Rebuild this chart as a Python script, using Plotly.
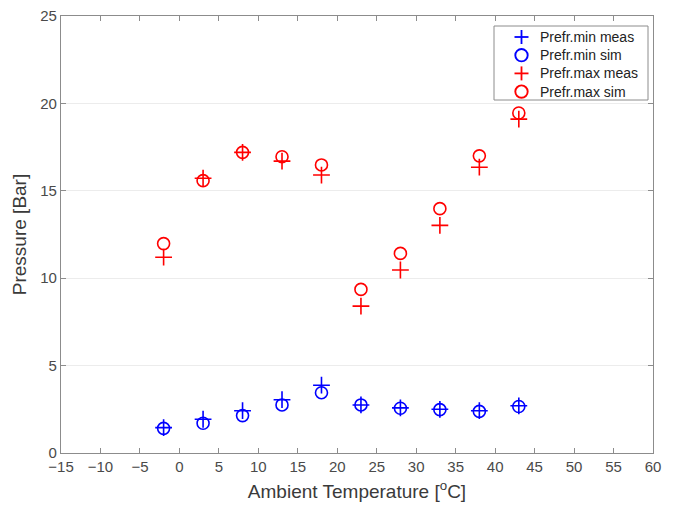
import plotly.graph_objects as go

temps = [-2, 3, 8, 13, 18, 23, 28, 33, 38, 43]
min_meas = [1.45, 1.93, 2.42, 3.05, 3.88, 2.75, 2.58, 2.5, 2.42, 2.7]
min_sim = [1.41, 1.70, 2.14, 2.75, 3.45, 2.75, 2.56, 2.48, 2.38, 2.66]
max_meas = [11.2, 15.72, 17.2, 16.7, 15.9, 8.4, 10.47, 13.02, 16.35, 19.1]
max_sim = [11.98, 15.58, 17.2, 16.95, 16.48, 9.36, 11.42, 13.98, 17.0, 19.45]

series_names = ["Prefr.min meas", "Prefr.min sim", "Prefr.max meas", "Prefr.max sim"]

x_ticks = list(range(-15, 61, 5))
y_ticks = [0, 5, 10, 15, 20, 25]

BLUE = "#0000ff"
RED = "#ff0000"
FONT = "Liberation Sans, Arial, sans-serif"

fig = go.Figure()
series = [
    (series_names[0], min_meas, BLUE, "cross-thin-open"),
    (series_names[1], min_sim, BLUE, "circle-open"),
    (series_names[2], max_meas, RED, "cross-thin-open"),
    (series_names[3], max_sim, RED, "circle-open"),
]
for name, vals, col, sym in series:
    fig.add_trace(go.Scatter(
        x=temps, y=vals, mode="markers", name=name, showlegend=False,
        marker=dict(symbol=sym, size=12, color=col,
                    line=dict(color=col, width=1.6)),
    ))

axis_common = dict(
    showline=True, linecolor="#8c8c8c", linewidth=1.2, mirror="ticks",
    ticks="inside", ticklen=5, tickcolor="#8c8c8c", tickwidth=1,
    tickfont=dict(family=FONT, size=15, color="#4a4a4a"),
    zeroline=False, automargin=False, ticklabeloverflow="allow",
)

fig.update_xaxes(
    range=[-15, 60], tickvals=x_ticks, showgrid=False,
    title=dict(text="Ambient Temperature [<sup>o</sup>C]",
               font=dict(family=FONT, size=19, color="#3a3a3a"), standoff=10),
    **axis_common,
)
fig.update_yaxes(
    range=[0, 25], tickvals=y_ticks, showgrid=True, gridcolor="#ececec",
    gridwidth=1,
    title=dict(text="Pressure [Bar]",
               font=dict(family=FONT, size=19, color="#3a3a3a"), standoff=8),
    **axis_common,
)

# ---- legend box (drawn as layout decorations, MATLAB-like compact legend)
PLOT_L, PLOT_T, PLOT_W, PLOT_H = 61, 16, 592, 437


def px_x(px):
    return (px - PLOT_L) / PLOT_W


def px_y(py):
    return (PLOT_T + PLOT_H - py) / PLOT_H


shapes = [dict(type="rect", xref="paper", yref="paper",
               x0=px_x(494), x1=px_x(648), y0=px_y(100), y1=px_y(26),
               fillcolor="white", line=dict(color="#8c8c8c", width=1),
               layer="above")]
annotations = []
row_y = [37, 55.2, 73.4, 91.6]
mx = px_x(521.5)
for (name, vals, col, sym), ry in zip(series, row_y):
    yy = px_y(ry)
    if sym.startswith("cross"):
        shapes.append(dict(type="line", xref="paper", yref="paper",
                           xsizemode="pixel", ysizemode="pixel",
                           xanchor=mx, yanchor=yy, x0=-7, x1=7, y0=0, y1=0,
                           line=dict(color=col, width=1.8), layer="above"))
        shapes.append(dict(type="line", xref="paper", yref="paper",
                           xsizemode="pixel", ysizemode="pixel",
                           xanchor=mx, yanchor=yy, x0=0, x1=0, y0=-7, y1=7,
                           line=dict(color=col, width=1.8), layer="above"))
    else:
        shapes.append(dict(type="circle", xref="paper", yref="paper",
                           xsizemode="pixel", ysizemode="pixel",
                           xanchor=mx, yanchor=yy, x0=-6.2, x1=6.2, y0=-6.2, y1=6.2,
                           line=dict(color=col, width=1.9), layer="above"))
    annotations.append(dict(xref="paper", yref="paper", x=px_x(538), y=yy,
                            xanchor="left", yanchor="middle", text=name,
                            showarrow=False,
                            font=dict(family=FONT, size=14, color="#222222")))

fig.update_layout(
    width=670, height=502,
    margin=dict(l=53, r=25, t=8, b=57),
    paper_bgcolor="white", plot_bgcolor="white",
    font=dict(family=FONT, color="#333333"),
    showlegend=False,
    shapes=shapes, annotations=annotations,
)

fig.write_html("out.html")
